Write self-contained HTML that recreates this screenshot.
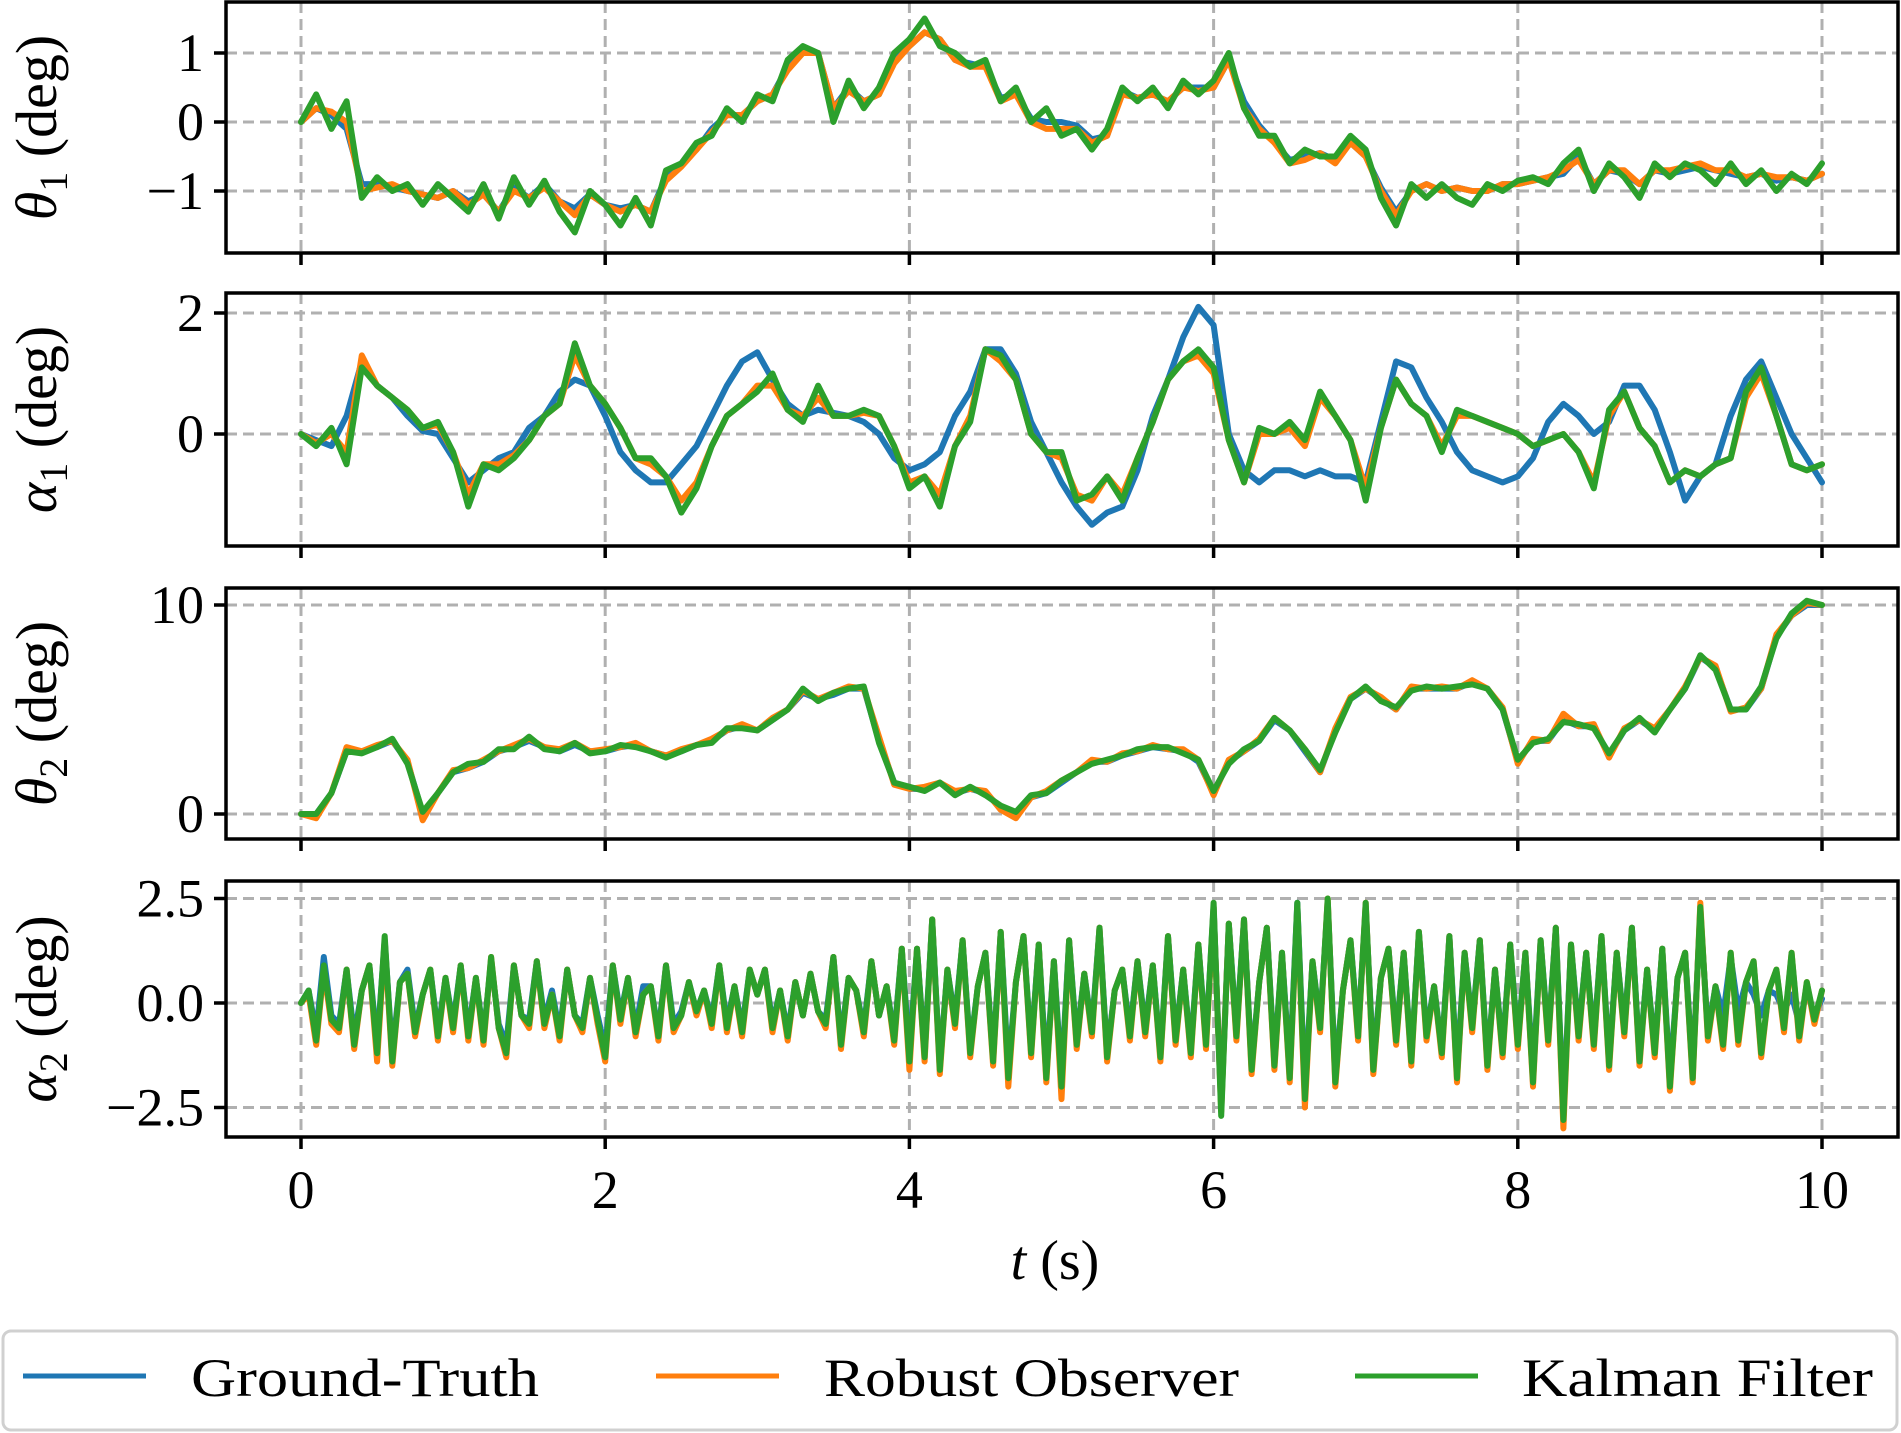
<!DOCTYPE html>
<html><head><meta charset="utf-8"><style>
html,body{margin:0;padding:0;background:#fff;}
svg{display:block;}
text{font-family:"Liberation Serif","DejaVu Serif",serif;fill:#000;}
</style></head>
<body>
<svg id="chart" width="1901" height="1433" viewBox="0 0 1901 1433" xmlns="http://www.w3.org/2000/svg">
<g id="plots"></g>
<g>
<rect x="3" y="1331" width="1894" height="99" rx="8" fill="#fff" stroke="#d0d0d0" stroke-width="3"/>
<g><line x1="23" y1="1376" x2="146" y2="1376" stroke="#1f77b4" stroke-width="5"/><text x="191" y="1396" font-size="54" textLength="348" lengthAdjust="spacingAndGlyphs">Ground-Truth</text></g>
<g><line x1="656" y1="1376" x2="779" y2="1376" stroke="#ff7f0e" stroke-width="5"/><text x="824" y="1396" font-size="54" textLength="415" lengthAdjust="spacingAndGlyphs">Robust Observer</text></g>
<g><line x1="1355" y1="1376" x2="1478" y2="1376" stroke="#2ca02c" stroke-width="5"/><text x="1522" y="1396" font-size="54" textLength="351" lengthAdjust="spacingAndGlyphs">Kalman Filter</text></g>
</g>
<text x="1055" y="1279" font-size="56" text-anchor="middle"><tspan font-style="italic">t</tspan> (s)</text>
</svg>
<script>
// ---- data ----
const xTicks = [0,2,4,6,8,10];
const xTickLabels = ["0","2","4","6","8","10"];
// theta1 (0.1 s step)
const GT1 = [0,0.2,0.1,-0.1,-0.9,-0.9,-0.95,-1.0,-1.05,-1.1,-1.0,-1.15,-1.05,-1.3,-0.95,-1.1,-0.9,-1.15,-1.25,-1.05,-1.2,-1.25,-1.2,-1.3,-0.8,-0.6,-0.4,-0.1,0.1,0.1,0.3,0.4,0.8,1.0,1.0,0.2,0.5,0.3,0.4,0.9,1.1,1.3,1.2,0.9,0.85,0.8,0.35,0.4,0.05,0.0,0.0,-0.05,-0.25,-0.2,0.45,0.35,0.4,0.3,0.5,0.5,0.5,0.9,0.3,-0.05,-0.3,-0.55,-0.5,-0.45,-0.55,-0.3,-0.5,-0.95,-1.3,-1.0,-0.9,-1.0,-0.95,-1.0,-1.0,-0.9,-0.9,-0.85,-0.8,-0.75,-0.5,-0.9,-0.7,-0.75,-0.9,-0.7,-0.75,-0.7,-0.65,-0.7,-0.75,-0.8,-0.75,-0.85,-0.8,-0.85,-0.75];
const RO1 = [0,0.2,0.15,0.0,-1.0,-0.95,-0.9,-1.0,-1.05,-1.1,-1.0,-1.2,-1.05,-1.3,-1.0,-1.1,-0.95,-1.15,-1.35,-1.05,-1.2,-1.3,-1.2,-1.3,-0.85,-0.65,-0.4,-0.15,0.1,0.1,0.3,0.4,0.75,1.0,1.0,0.2,0.45,0.3,0.4,0.85,1.1,1.3,1.2,0.9,0.8,0.8,0.3,0.4,0.0,-0.1,-0.1,-0.1,-0.3,-0.2,0.4,0.35,0.4,0.3,0.5,0.45,0.5,0.9,0.2,-0.1,-0.3,-0.6,-0.55,-0.45,-0.6,-0.3,-0.5,-1.0,-1.35,-1.0,-0.9,-1.0,-0.95,-1.0,-1.0,-0.9,-0.9,-0.85,-0.8,-0.7,-0.55,-0.9,-0.7,-0.7,-0.9,-0.7,-0.7,-0.65,-0.6,-0.7,-0.7,-0.8,-0.75,-0.8,-0.8,-0.85,-0.75];
const KF1 = [0,0.4,-0.1,0.3,-1.1,-0.8,-1.0,-0.9,-1.2,-0.9,-1.1,-1.3,-0.9,-1.4,-0.8,-1.2,-0.85,-1.3,-1.6,-1.0,-1.2,-1.5,-1.1,-1.5,-0.7,-0.6,-0.3,-0.2,0.2,0.0,0.4,0.3,0.9,1.1,1.0,0.0,0.6,0.2,0.5,1.0,1.2,1.5,1.1,1.0,0.8,0.9,0.3,0.5,0.0,0.2,-0.2,-0.1,-0.4,-0.1,0.5,0.3,0.5,0.2,0.6,0.4,0.6,1.0,0.2,-0.2,-0.2,-0.6,-0.4,-0.5,-0.5,-0.2,-0.4,-1.1,-1.5,-0.9,-1.1,-0.9,-1.1,-1.2,-0.9,-1.0,-0.85,-0.8,-0.9,-0.6,-0.4,-1.0,-0.6,-0.8,-1.1,-0.6,-0.8,-0.6,-0.7,-0.9,-0.6,-0.9,-0.7,-1.0,-0.75,-0.9,-0.6];
// alpha1
const GT2 = [0,-0.1,-0.2,0.3,1.2,0.8,0.6,0.3,0.05,0.0,-0.4,-0.8,-0.6,-0.4,-0.3,0.1,0.3,0.7,0.9,0.8,0.3,-0.3,-0.6,-0.8,-0.8,-0.5,-0.2,0.3,0.8,1.2,1.35,0.9,0.5,0.3,0.4,0.35,0.3,0.2,0.0,-0.4,-0.6,-0.5,-0.3,0.3,0.7,1.4,1.4,1.0,0.2,-0.3,-0.8,-1.2,-1.5,-1.3,-1.2,-0.6,0.3,0.9,1.6,2.1,1.8,0.0,-0.6,-0.8,-0.6,-0.6,-0.7,-0.6,-0.7,-0.7,-0.8,0.2,1.2,1.1,0.6,0.2,-0.3,-0.6,-0.7,-0.8,-0.7,-0.4,0.2,0.5,0.3,0.0,0.2,0.8,0.8,0.4,-0.3,-1.1,-0.7,-0.5,0.3,0.9,1.2,0.6,0.0,-0.4,-0.8];
const RO2 = [0,-0.15,0.0,-0.3,1.3,0.8,0.6,0.4,0.1,0.15,-0.3,-1.0,-0.5,-0.5,-0.35,-0.1,0.3,0.5,1.3,0.8,0.5,0.1,-0.4,-0.5,-0.7,-1.1,-0.8,-0.2,0.3,0.5,0.8,0.8,0.4,0.3,0.6,0.3,0.3,0.35,0.3,-0.2,-0.8,-0.7,-1.0,-0.2,0.3,1.4,1.2,0.9,0.0,-0.3,-0.4,-1.0,-1.1,-0.7,-1.0,-0.4,0.2,0.9,1.2,1.3,1.0,-0.1,-0.8,0.0,0.0,0.1,-0.2,0.6,0.3,-0.1,-0.9,0.1,0.9,0.5,0.3,-0.2,0.3,0.3,0.2,0.1,0.0,-0.2,-0.1,0.0,-0.3,-0.8,0.3,0.7,0.1,-0.2,-0.8,-0.6,-0.7,-0.5,-0.4,0.6,1.0,0.3,-0.5,-0.6,-0.5];
const KF2 = [0,-0.2,0.1,-0.5,1.1,0.8,0.6,0.4,0.1,0.2,-0.3,-1.2,-0.5,-0.6,-0.4,-0.1,0.3,0.5,1.5,0.8,0.5,0.1,-0.4,-0.4,-0.7,-1.3,-0.9,-0.2,0.3,0.5,0.7,1.0,0.4,0.2,0.8,0.3,0.3,0.4,0.3,-0.2,-0.9,-0.7,-1.2,-0.2,0.2,1.4,1.3,0.9,0.0,-0.3,-0.3,-1.1,-1.0,-0.7,-1.1,-0.4,0.2,0.9,1.2,1.4,1.1,-0.1,-0.8,0.1,0.0,0.2,-0.1,0.7,0.3,-0.1,-1.1,0.1,0.9,0.5,0.3,-0.3,0.4,0.3,0.2,0.1,0.0,-0.2,-0.1,0.0,-0.3,-0.9,0.4,0.7,0.1,-0.2,-0.8,-0.6,-0.7,-0.5,-0.4,0.7,1.1,0.3,-0.5,-0.6,-0.5];
// theta2
const GT3 = [0,0,1,3,3,3.2,3.5,2.5,0,1,2,2.2,2.5,3,3.2,3.5,3.2,3,3.3,3,3,3.2,3.3,3,2.8,3,3.3,3.5,4,4.2,4,4.5,5,5.8,5.5,5.7,6,6,3.5,1.5,1.2,1.2,1.5,1.0,1.2,1.0,0.3,0.0,0.8,1.0,1.5,2.0,2.5,2.5,2.8,3.0,3.2,3.1,3.0,2.5,1.0,2.5,3.0,3.5,4.5,4.0,3.0,2.0,4.0,5.5,6.0,5.5,5.0,6.0,6.0,6.0,6.0,6.3,6.0,5.0,2.5,3.5,3.5,4.5,4.2,4.2,2.8,4.0,4.5,4.0,5.0,6.0,7.5,7.0,5.0,5.0,6.0,8.5,9.5,10,10];
const RO3 = [0,-0.2,1,3.2,3,3.3,3.5,2.6,-0.3,1,2.1,2.2,2.6,3,3.3,3.6,3.2,3.1,3.4,3,3.1,3.2,3.4,3,2.8,3.1,3.3,3.6,4,4.3,4,4.6,5,5.9,5.5,5.8,6.1,6,3.7,1.4,1.2,1.3,1.5,1.1,1.2,1.1,0.2,-0.2,0.8,1.1,1.6,2.0,2.6,2.5,2.9,3.0,3.3,3.1,3.1,2.6,0.9,2.6,3.0,3.6,4.6,4.0,3.1,2.0,4.1,5.6,6.0,5.6,5.0,6.1,6.0,6.1,6.0,6.4,6.0,5.1,2.4,3.6,3.5,4.8,4.2,4.3,2.7,4.1,4.5,4.1,5.0,6.1,7.5,7.1,4.9,5.1,6.0,8.6,9.5,10.1,10];
const KF3 = [0,0,1,3,2.9,3.2,3.6,2.4,0.1,1,2,2.4,2.5,3.1,3.1,3.7,3.1,3,3.4,2.9,3,3.3,3.2,3,2.7,3,3.3,3.4,4.1,4.1,4,4.5,5,6,5.4,5.8,6,6.1,3.4,1.5,1.3,1.1,1.5,0.9,1.3,0.9,0.4,0.1,0.9,1.0,1.6,2.0,2.4,2.6,2.8,3.1,3.2,3.2,2.9,2.6,1.1,2.4,3.1,3.5,4.6,4.0,3.1,2.1,3.9,5.5,6.1,5.4,5.1,5.9,6.1,6.0,6.1,6.2,6.0,5.0,2.6,3.4,3.6,4.4,4.3,4.1,2.9,4.0,4.6,3.9,5.0,6.0,7.6,6.9,5.0,5.0,6.1,8.4,9.6,10.2,10];
// alpha2 (0.05 s step)
const KF4 = [0,0.3,-0.9,0.9,-0.4,-0.6,0.8,-1.0,0.3,0.9,-1.2,1.6,-1.4,0.5,0.7,-0.7,0.2,0.8,-0.8,0.6,-0.6,
0.9,-0.8,0.6,-0.9,1.1,-0.6,-1.2,0.9,-0.3,-0.5,1.0,-0.5,0.2,-0.8,0.8,-0.3,-0.6,0.6,-0.4,-1.3,
0.9,-0.4,0.6,-0.7,0.2,0.4,-0.8,0.9,-0.6,-0.3,0.5,-0.2,0.3,-0.5,0.9,-0.6,0.4,-0.7,0.8,0.2,
0.8,-0.6,0.3,-0.8,0.5,-0.3,0.7,-0.2,-0.5,1.1,-1.0,0.6,0.3,-0.7,1.0,-0.3,0.4,-0.9,1.3,-1.4,
1.3,-1.3,2.0,-1.6,0.8,-0.5,1.5,-1.2,0.4,1.2,-1.4,1.7,-1.8,0.5,1.6,-1.2,1.4,-1.8,1.0,-2.0,
1.5,-1.0,0.7,-0.7,1.8,-1.3,0.3,0.8,-0.8,1.0,-0.7,0.9,-1.3,1.6,-0.9,0.8,-1.2,1.4,-1.0,2.4,
-2.7,1.9,-0.8,2.0,-1.6,0.5,1.8,-1.5,1.2,-1.8,2.4,-2.3,1.0,-0.6,2.5,-1.9,0.3,1.5,-0.8,2.4,
-1.6,0.6,1.3,-0.9,1.2,-1.4,1.7,-0.8,0.4,-1.2,1.6,-1.8,1.2,-0.6,1.5,-1.5,0.8,-1.2,1.4,-1.0,
1.2,-1.9,1.5,-0.9,1.8,-2.8,1.4,-0.8,1.2,-1.0,1.6,-1.5,1.2,-0.7,1.8,-1.4,0.8,-1.2,1.3,-2.0,
0.6,1.2,-1.8,2.3,-0.8,0.4,-1.0,1.2,-0.9,0.5,1.0,-1.2,0.3,0.8,-0.6,1.2,-0.8,0.5,-0.4,0.3];
const RO4 = [0,0.2,-1.0,0.8,-0.5,-0.7,0.8,-1.1,0.3,0.9,-1.4,1.5,-1.5,0.5,0.7,-0.8,0.2,0.8,-0.9,0.6,-0.7,
0.9,-0.9,0.6,-1.0,1.1,-0.6,-1.3,0.9,-0.3,-0.6,1.0,-0.6,0.2,-0.9,0.8,-0.3,-0.7,0.6,-0.5,-1.4,
0.9,-0.5,0.6,-0.8,0.2,0.4,-0.9,0.9,-0.7,-0.3,0.5,-0.3,0.3,-0.6,0.9,-0.7,0.4,-0.8,0.8,0.2,
0.8,-0.7,0.3,-0.9,0.5,-0.3,0.7,-0.2,-0.6,1.1,-1.1,0.6,0.3,-0.8,1.0,-0.3,0.4,-1.0,1.3,-1.6,
1.3,-1.4,2.0,-1.7,0.8,-0.6,1.5,-1.3,0.4,1.2,-1.5,1.7,-2.0,0.5,1.6,-1.3,1.4,-1.9,1.0,-2.3,
1.5,-1.1,0.7,-0.8,1.8,-1.4,0.3,0.8,-0.9,1.0,-0.8,0.9,-1.4,1.6,-1.0,0.8,-1.3,1.4,-1.1,2.3,
-2.6,1.9,-0.9,2.0,-1.7,0.5,1.8,-1.6,1.2,-1.9,2.3,-2.5,1.0,-0.7,2.5,-2.0,0.3,1.5,-0.9,2.4,
-1.7,0.6,1.3,-1.0,1.2,-1.5,1.7,-0.9,0.4,-1.3,1.6,-1.9,1.2,-0.7,1.5,-1.6,0.8,-1.3,1.4,-1.1,
1.2,-2.0,1.5,-1.0,1.8,-3.0,1.4,-0.9,1.2,-1.1,1.6,-1.6,1.2,-0.8,1.8,-1.5,0.8,-1.3,1.3,-2.1,
0.6,1.2,-1.9,2.4,-0.9,0.4,-1.1,1.2,-1.0,0.5,1.0,-1.3,0.3,0.8,-0.7,1.2,-0.9,0.5,-0.5,0.3];
const GT4 = [0,0.3,-0.7,1.1,-0.3,-0.5,0.8,-0.8,0.3,0.9,-1.0,1.5,-1.2,0.5,0.8,-0.6,0.2,0.8,-0.7,0.6,-0.5,
0.9,-0.7,0.6,-0.8,1.0,-0.5,-1.0,0.9,-0.3,-0.4,1.0,-0.4,0.3,-0.7,0.8,-0.3,-0.5,0.6,-0.3,-1.1,
0.9,-0.3,0.6,-0.6,0.4,0.4,-0.7,0.9,-0.5,-0.2,0.5,-0.2,0.3,-0.4,0.9,-0.5,0.4,-0.6,0.8,0.2,
0.8,-0.5,0.3,-0.7,0.5,-0.3,0.7,-0.2,-0.4,1.1,-0.9,0.6,0.3,-0.6,1.0,-0.3,0.4,-0.8,1.3,-1.2,
1.3,-1.2,2.0,-1.5,0.8,-0.4,1.5,-1.1,0.4,1.2,-1.3,1.7,-1.6,0.5,1.6,-1.1,1.4,-1.6,1.0,-1.8,
1.5,-0.9,0.7,-0.6,1.8,-1.2,0.3,0.8,-0.7,1.0,-0.6,0.9,-1.2,1.6,-0.8,0.8,-1.1,1.4,-0.9,2.3,
-2.5,1.9,-0.7,2.0,-1.5,0.5,1.8,-1.4,1.2,-1.6,2.4,-2.1,1.0,-0.5,2.4,-1.7,0.3,1.5,-0.7,2.3,
-1.4,0.6,1.3,-0.8,1.2,-1.3,1.7,-0.7,0.4,-1.1,1.6,-1.6,1.2,-0.5,1.5,-1.4,0.8,-1.1,1.4,-0.9,
1.2,-1.7,1.5,-0.8,1.8,-2.6,1.4,-0.7,1.2,-0.9,1.6,-1.4,1.2,-0.6,1.8,-1.3,0.8,-1.1,1.3,-1.8,
0.6,1.2,-1.6,2.2,-0.7,0.4,-0.3,1.1,-0.2,0.5,0.2,-0.3,0.3,0.2,-0.2,0.2,-0.5,0.3,-0.3,0.1];
const panels = [
 {name:"theta1", label:"θ", sub:"1", top:2, bottom:253, y0:122, k:69, ticks:[1,0,-1], tickLabels:["1","0","−1"], step:0.1, gt:GT1, ro:RO1, kf:KF1},
 {name:"alpha1", label:"α", sub:"1", top:293, bottom:546, y0:434, k:60.5, ticks:[2,0], tickLabels:["2","0"], step:0.1, gt:GT2, ro:RO2, kf:KF2},
 {name:"theta2", label:"θ", sub:"2", top:588, bottom:839, y0:814, k:20.9, ticks:[10,0], tickLabels:["10","0"], step:0.1, gt:GT3, ro:RO3, kf:KF3},
 {name:"alpha2", label:"α", sub:"2", top:881, bottom:1137, y0:1003, k:41.8, ticks:[2.5,0,-2.5], tickLabels:["2.5","0.0","−2.5"], step:0.05, gt:GT4, ro:RO4, kf:KF4}
];
// ---- drawing ----
const NS="http://www.w3.org/2000/svg";
const L=226, R=1898;
function xs(t){return 301+t*152.1;}
const root=document.getElementById('plots');
function mk(tag,attrs,parent){const e=document.createElementNS(NS,tag);for(const a in attrs)e.setAttribute(a,attrs[a]);parent.appendChild(e);return e;}
panels.forEach(p=>{
  const ys=v=>p.y0-p.k*v;
  const g=mk('g',{},root);
  
  
  const clipId='clip-'+p.name;
  const cp=mk('clipPath',{id:clipId},g);
  mk('rect',{x:L,y:p.top,width:R-L,height:p.bottom-p.top},cp);
  xTicks.forEach(t=>{
    const gl=mk('line',{x1:xs(t),x2:xs(t),y1:p.top,y2:p.bottom,stroke:'#b0b0b0','stroke-width':3,'stroke-dasharray':'11,6'},g);
    
    
    const tk=mk('line',{x1:xs(t),x2:xs(t),y1:p.bottom,y2:p.bottom+12,stroke:'#000','stroke-width':3.5},g);
    
    
  });
  p.ticks.forEach((v,i)=>{
    const gl=mk('line',{x1:L,x2:R,y1:ys(v),y2:ys(v),stroke:'#b0b0b0','stroke-width':3,'stroke-dasharray':'11,6'},g);
    
    
    const tk=mk('line',{x1:L-12,x2:L,y1:ys(v),y2:ys(v),stroke:'#000','stroke-width':3.5},g);
    
    
    const tl=mk('text',{x:L-22,y:ys(v)+18,'font-size':54,'text-anchor':'end'},g);
    tl.textContent=p.tickLabels[i];
    
    
  });
  const series=[['ground-truth',p.gt,'#1f77b4'],['robust-observer',p.ro,'#ff7f0e'],['kalman-filter',p.kf,'#2ca02c']];
  series.forEach(s=>{
    const pts=s[1].map((v,i)=>xs(i*p.step).toFixed(1)+','+ys(v).toFixed(1)).join(' ');
    const pl=mk('polyline',{points:pts,fill:'none',stroke:s[2],'stroke-width':6,'stroke-linejoin':'round','stroke-linecap':'round','clip-path':'url(#'+clipId+')'},g);
    
    
  });
  const fr=mk('rect',{x:L,y:p.top,width:R-L,height:p.bottom-p.top,fill:'none',stroke:'#000','stroke-width':3.5},g);
  
  
  const cy=(p.top+p.bottom)/2;
  const yl=mk('text',{x:0,y:0,'font-size':58,'text-anchor':'middle',transform:'translate(56,'+cy+') rotate(-90)'},g);
  yl.innerHTML='<tspan font-style="italic">'+p.label+'</tspan><tspan font-size="40" dy="11">'+p.sub+'</tspan><tspan dy="-11"> (deg)</tspan>';
  
  
  if(p.name==='alpha2'){
    xTicks.forEach((t,i)=>{
      const tl=mk('text',{x:xs(t),y:1208,'font-size':54,'text-anchor':'middle'},g);
      tl.textContent=xTickLabels[i];
      
      
    });
  }
});
</script>
</body></html>
